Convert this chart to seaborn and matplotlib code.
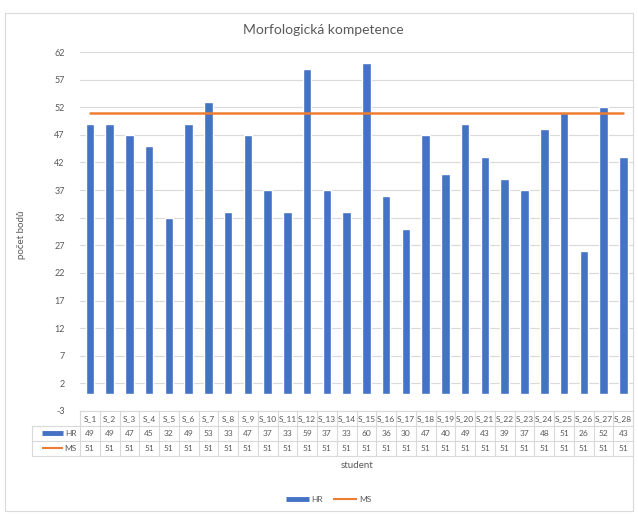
import matplotlib
matplotlib.use("Agg")
import matplotlib.pyplot as plt
from matplotlib.lines import Line2D
from matplotlib.patches import Rectangle
import numpy as np
import pandas as pd
import seaborn as sns

students = ["S_1", "S_2", "S_3", "S_4", "S_5", "S_6", "S_7", "S_8", "S_9", "S_10",
            "S_11", "S_12", "S_13", "S_14", "S_15", "S_16", "S_17", "S_18", "S_19", "S_20",
            "S_21", "S_22", "S_23", "S_24", "S_25", "S_26", "S_27", "S_28"]
hr = [49, 49, 47, 45, 32, 49, 53, 33, 47, 37, 33, 59, 37, 33, 60, 36, 30, 47, 40, 49,
      43, 39, 37, 48, 51, 26, 52, 43]
ms = [51, 51, 51, 51, 51, 51, 51, 51, 51, 51, 51, 51, 51, 51, 51, 51, 51, 51, 51, 51,
      51, 51, 51, 51, 51, 51, 51, 51]
yticks = [-3, 2, 7, 12, 17, 22, 27, 32, 37, 42, 47, 52, 57, 62]

BLUE = "#4472C4"
ORANGE = "#ED7D31"
GREY = "#595959"
GRID = "#D9D9D9"

sns.set_theme(style="white")
plt.rcParams["font.family"] = ["Lato", "DejaVu Sans"]

df = pd.DataFrame({"student": students, "HR": hr, "MS": ms})

fig = plt.figure(figsize=(6.38, 5.14), dpi=100)
ax = fig.add_axes([0.1254, 0.2004, 0.867, 0.6984])

sns.barplot(data=df, x="student", y="HR", color=BLUE, width=0.43, saturation=1,
            ax=ax, zorder=3)
sns.lineplot(x=np.arange(len(students)), y=df["MS"], color=ORANGE, linewidth=1.8,
             ax=ax, zorder=4)

ax.set_xlim(-0.5, len(students) - 0.5)
ax.set_ylim(-3, 62)
ax.set_yticks(yticks)
ax.set_yticklabels([str(t) for t in yticks], fontsize=6.5, color=GREY)
ax.tick_params(axis="y", length=0, pad=11)
ax.set_xticks([])
ax.set_xlabel("")
ax.set_ylabel("")
ax.grid(axis="y", color=GRID, linewidth=0.8, zorder=0)
for s in ax.spines.values():
    s.set_visible(False)

# data table under the plot
trans = ax.get_xaxis_transform()
rh = 15 / 359
n = len(students)
lab_left = -0.087
for i in range(n + 1):
    ax.add_line(Line2D([i - 0.5, i - 0.5], [0, -3 * rh], transform=trans,
                       color=GRID, lw=0.8, clip_on=False))
ax.add_line(Line2D([-0.5, n - 0.5], [0, 0], transform=trans, color=GRID, lw=0.8,
                   clip_on=False))
for k in (1, 2, 3):
    ax.add_line(Line2D([lab_left, 1], [-k * rh, -k * rh], transform=ax.transAxes,
                       color=GRID, lw=0.8, clip_on=False))
ax.add_line(Line2D([lab_left, lab_left], [-rh, -3 * rh], transform=ax.transAxes,
                   color=GRID, lw=0.8, clip_on=False))
for i, (s, h, m) in enumerate(zip(students, hr, ms)):
    ax.text(i, -0.5 * rh, s, transform=trans, ha="center", va="center",
            fontsize=6, color=GREY)
    ax.text(i, -1.5 * rh, str(h), transform=trans, ha="center", va="center",
            fontsize=6, color=GREY)
    ax.text(i, -2.5 * rh, str(m), transform=trans, ha="center", va="center",
            fontsize=6, color=GREY)
ax.text(-0.006, -1.5 * rh, "HR", transform=ax.transAxes, ha="right", va="center",
        fontsize=6, color=GREY)
ax.text(-0.006, -2.5 * rh, "MS", transform=ax.transAxes, ha="right", va="center",
        fontsize=6, color=GREY)
ax.add_line(Line2D([-0.069, -0.030], [-1.5 * rh, -1.5 * rh], transform=ax.transAxes,
                   color=BLUE, lw=3.5, solid_capstyle="butt", clip_on=False))
ax.add_line(Line2D([-0.069, -0.030], [-2.5 * rh, -2.5 * rh], transform=ax.transAxes,
                   color=ORANGE, lw=1.5, solid_capstyle="butt", clip_on=False))
ax.text(0.5, -0.153, "student", transform=ax.transAxes, ha="center", va="center",
        fontsize=7, color=GREY)

fig.text(0.506, 0.942, "Morfologická kompetence", ha="center", va="center",
         fontsize=10, color=GREY)
fig.text(0.034, 0.543, "počet bodů", rotation=90, ha="center", va="center",
         fontsize=7, color=GREY)

handles = [Line2D([], [], color=BLUE, lw=3.5, solid_capstyle="butt"),
           Line2D([], [], color=ORANGE, lw=1.5, solid_capstyle="butt")]
fig.legend(handles, ["HR", "MS"], loc="center", bbox_to_anchor=(0.515, 0.029),
           ncol=2, frameon=False, fontsize=6, handlelength=2.8, columnspacing=1.2,
           handletextpad=0.3, labelcolor=GREY)

fig.patches.append(Rectangle((0.008, 0.006), 0.984, 0.969, transform=fig.transFigure,
                             fill=False, edgecolor=GRID, linewidth=0.8))

fig.savefig("out.png", dpi=100)
